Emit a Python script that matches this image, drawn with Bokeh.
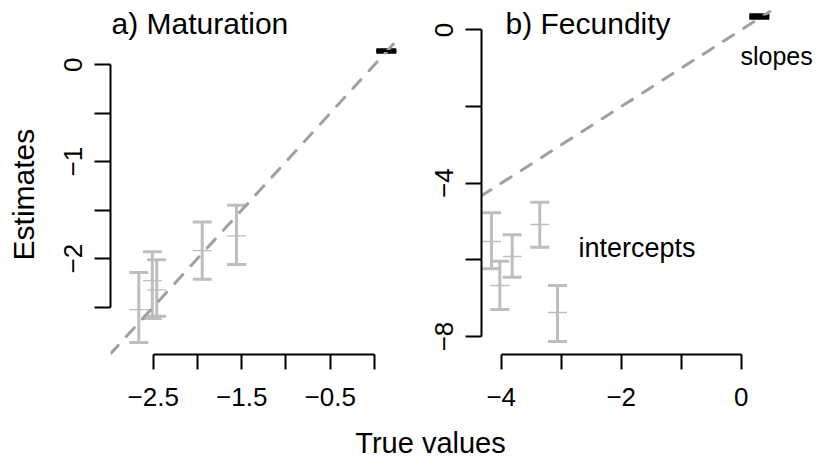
from bokeh.plotting import figure
from bokeh.models import ColumnDataSource, Whisker, TeeHead, Label, FixedTicker, Range1d
from bokeh.layouts import row, column
from bokeh.embed import file_html
from bokeh.resources import INLINE

# ---------------- data ----------------
# a) Maturation : intercepts (true value, estimate, lower, upper)
mat_true = [-2.663, -2.51, -2.46, -1.946, -1.559]
mat_est = [-2.527, -2.228, -2.323, -1.918, -1.765]
mat_lo = [-2.867, -2.619, -2.595, -2.214, -2.061]
mat_hi = [-2.143, -1.929, -2.013, -1.622, -1.449]
# a) Maturation : slope
mat_slope_true = [0.134]
mat_slope_est = [0.141]
mat_slope_lo = [0.128]
mat_slope_hi = [0.155]

# b) Fecundity : intercepts
fec_true = [-4.162, -4.023, -3.817, -3.357, -3.062]
fec_est = [-5.520, -6.668, -5.912, -5.077, -7.373]
fec_lo = [-6.233, -7.295, -6.452, -5.669, -8.130]
fec_hi = [-4.772, -6.034, -5.346, -4.495, -6.668]
# b) Fecundity : slope
fec_slope_true = [0.302]
fec_slope_est = [0.350]
fec_slope_lo = [0.303]
fec_slope_hi = [0.397]

# ticks
mat_xticks = [-2.5, -2.0, -1.5, -1.0, -0.5, 0.0]
mat_xlabels = ["\u22122.5", "", "\u22121.5", "", "\u22120.5", ""]
mat_yticks = [-2.5, -2.0, -1.5, -1.0, -0.5, 0.0]
mat_ylabels = ["", "\u22122", "", "\u22121", "", "0"]
fec_xticks = [-4.0, -3.0, -2.0, -1.0, 0.0]
fec_xlabels = ["\u22124", "", "\u22122", "", "0"]
fec_yticks = [-8.0, -6.0, -4.0, -2.0, 0.0]
fec_ylabels = ["\u22128", "", "\u22124", "", "0"]

FONT = "Liberation Sans"
GRAY = "#BEBEBE"
LINEGRAY = "#A0A0A0"
SHIFT = 10  # label baseline compensation (px)


def r_lim(vals):
    lo, hi = min(vals), max(vals)
    ext = 0.04 * (hi - lo)
    return lo - ext, hi + ext


# R-style plot regions (used to clip the 1:1 reference line like abline)
a_lim = r_lim(mat_true + mat_lo + mat_hi + mat_slope_true + mat_slope_lo + mat_slope_hi)
b_xlim = r_lim(fec_true + fec_slope_true)
b_ylim = r_lim(fec_lo + fec_hi + fec_slope_lo + fec_slope_hi)
a_line = [a_lim[0], a_lim[1]]
b_line = [max(b_xlim[0], b_ylim[0]), min(b_xlim[1], b_ylim[1])]


# pixel -> data helpers (frame placement and annotation placement)
def ax_px(px): return (px - 373.95) / 88.5
def ay_px(py): return (65.0 - py) / 98.0
def bx_px(px): return (px - 740.7) / 60.0
def by_px(py): return (29.4 - py) / 38.33


H = 425
LW = 45     # left strip (y label)
SPLIT = 417  # x where panel b's canvas starts


def make_fig(w, h, xr, yr, mbl, mbb):
    p = figure(width=w, height=h, x_range=Range1d(*xr), y_range=Range1d(*yr),
               output_backend="svg", toolbar_location=None, title=None,
               min_border_left=mbl, min_border_right=0,
               min_border_top=0, min_border_bottom=mbb)
    p.outline_line_color = None
    p.grid.visible = False
    p.background_fill_color = "white"
    p.border_fill_color = "white"
    return p


def strip(w, h):
    p = figure(width=w, height=h, x_range=Range1d(0, w), y_range=Range1d(0, h),
               output_backend="svg", toolbar_location=None, title=None,
               x_axis_type=None, y_axis_type=None,
               min_border_left=0, min_border_right=0, min_border_top=0, min_border_bottom=0)
    p.outline_line_color = None
    p.grid.visible = False
    p.border_fill_color = "white"
    p.background_fill_color = "white"
    return p


def style_axis(ax, ticks, labels, bounds, vertical=False):
    ax.ticker = FixedTicker(ticks=ticks, minor_ticks=[])
    ax.major_label_overrides = {float(t): l for t, l in zip(ticks, labels)}
    ax.bounds = bounds
    ax.axis_line_width = 2
    ax.axis_line_color = "black"
    ax.major_tick_line_width = 2
    ax.major_tick_line_color = "black"
    ax.major_tick_out = 15
    ax.major_tick_in = 0
    ax.minor_tick_line_color = None
    ax.major_label_text_font = FONT
    ax.major_label_text_font_size = "26px"
    ax.major_label_text_color = "black"
    if vertical:
        ax.major_tick_out = 16
        ax.major_label_orientation = "vertical"
        ax.major_label_standoff = 12
    else:
        ax.major_label_standoff = 18


def add_panel(p, line, xt, est, lo, hi, st, sest, slo, shi):
    p.line(line, line, line_color=LINEGRAY, line_width=3, line_dash="12 12", line_cap="round")
    src = ColumnDataSource(dict(x=xt, lo=lo, hi=hi))
    p.add_layout(Whisker(base="x", lower="lo", upper="hi", source=src, dimension="height",
                         line_color=GRAY, line_width=3,
                         upper_head=TeeHead(size=19, line_color=GRAY, line_width=3),
                         lower_head=TeeHead(size=19, line_color=GRAY, line_width=3)))
    p.scatter(xt, est, marker="dash", size=19, line_color=GRAY, line_width=1.3)
    ssrc = ColumnDataSource(dict(x=st, lo=slo, hi=shi))
    p.add_layout(Whisker(base="x", lower="lo", upper="hi", source=ssrc, dimension="height",
                         line_color="black", line_width=3,
                         upper_head=TeeHead(size=20, line_color="black", line_width=3),
                         lower_head=TeeHead(size=20, line_color="black", line_width=3)))
    p.scatter(st, sest, marker="dash", size=20, line_color="black", line_width=2)


def lab(p, x, y, text, size, align="left", angle=0.0):
    p.add_layout(Label(x=x, y=y, text=text, text_font=FONT, text_font_size=size,
                       text_align=align, text_baseline="alphabetic", angle=angle,
                       text_color="black"))


# ---------------- left strip with y label ----------------
pl = strip(LW, H)
lab(pl, 33 - SHIFT, H - 233, "Estimates", "30px", align="center", angle=1.5707963)

# ---------------- panel a ----------------
pa = make_fig(SPLIT - LW, H, (ax_px(110), ax_px(SPLIT)), (ay_px(358), ay_px(0)), 110 - LW, H - 358)
add_panel(pa, a_line, mat_true, mat_est, mat_lo, mat_hi,
          mat_slope_true, mat_slope_est, mat_slope_lo, mat_slope_hi)
style_axis(pa.xaxis[0], mat_xticks, mat_xlabels, (-2.5, 0.0))
style_axis(pa.yaxis[0], mat_yticks, mat_ylabels, (-2.5, 0.0), vertical=True)
lab(pa, ax_px(111), ay_px(33 - SHIFT), "a) Maturation", "30px")

# ---------------- panel b ----------------
pb = make_fig(821 - SPLIT, H, (bx_px(481), bx_px(821)), (by_px(354), by_px(0)), 481 - SPLIT, H - 354)
add_panel(pb, b_line, fec_true, fec_est, fec_lo, fec_hi,
          fec_slope_true, fec_slope_est, fec_slope_lo, fec_slope_hi)
style_axis(pb.xaxis[0], fec_xticks, fec_xlabels, (-4.0, 0.0))
style_axis(pb.yaxis[0], fec_yticks, fec_ylabels, (-8.0, 0.0), vertical=True)
lab(pb, bx_px(505), by_px(33 - SHIFT), "b) Fecundity", "30px")
lab(pb, bx_px(740), by_px(65 - SHIFT), "slopes", "25px")
lab(pb, bx_px(578), by_px(257 - SHIFT), "intercepts", "27px")

# ---------------- bottom strip with shared x label ----------------
SH = 466 - H
pc = strip(821, SH)
lab(pc, 430, 466 - 452 + SHIFT, "True values", "29px", align="center")

layout = column(row(pl, pa, pb), pc)
open("out.html", "w").write(file_html(layout, INLINE))
